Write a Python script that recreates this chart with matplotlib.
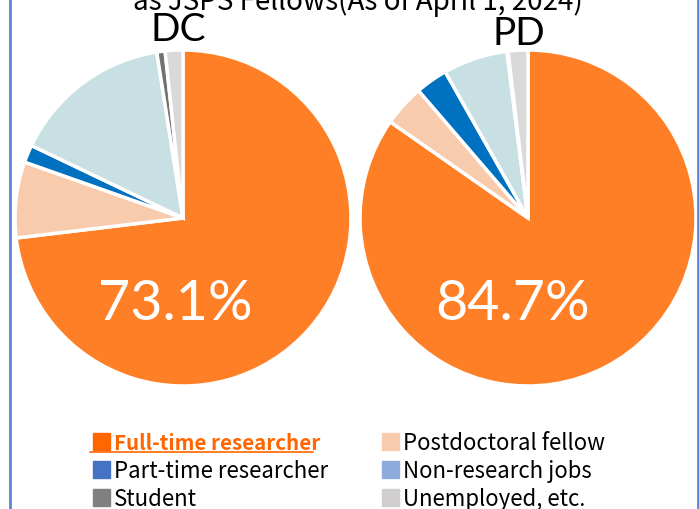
import matplotlib
matplotlib.use('Agg')
import matplotlib.pyplot as plt
from matplotlib.patches import Rectangle
from matplotlib.lines import Line2D

plt.rcParams['font.family'] = ['Noto Sans CJK JP', 'DejaVu Sans']

# data
categories = ['Full-time researcher', 'Postdoctoral fellow', 'Part-time researcher',
              'Non-research jobs', 'Student', 'Unemployed, etc.']
dc_values = [73.1, 7.3, 1.7, 15.4, 0.8, 1.7]
pd_values = [84.7, 4.0, 3.1, 6.2, 0.1, 1.9]
pie_titles = ['DC', 'PD']
title_text = 'as JSPS Fellows(As of April 1, 2024)'

pie_colors = ['#FF7F27', '#F8CBAD', '#0070C0', '#C8E0E4', '#767171', '#D9D9D9']
legend_colors = ['#FF6600', '#F8CBAD', '#4472C4', '#8FAADC', '#808080', '#D0CECE']

W, H = 699, 509
fig = plt.figure(figsize=(W / 100, H / 100), dpi=100)


def fx(x):
    return x / W


def fy(y):
    return 1 - y / H


# pies
r = 168
centers = [(183, 218), (528, 218)]
label_pos = [(175, 320), (513, 320)]
title_pos = [(178, 41), (519, 45)]
for i, values in enumerate([dc_values, pd_values]):
    cx, cy = centers[i]
    ax = fig.add_axes([fx(cx - r), fy(cy + r), 2 * r / W, 2 * r / H])
    ax.pie(values, colors=pie_colors, startangle=90, counterclock=False,
           radius=1, wedgeprops=dict(edgecolor='white', linewidth=2.5))
    ax.set_xlim(-1, 1)
    ax.set_ylim(-1, 1)
    ax.axis('off')
    lx, ly = label_pos[i]
    fig.text(fx(lx), fy(ly), f'{values[0]:.1f}%', color='white', fontsize=40,
             family=['Lato', 'DejaVu Sans'], ha='center', va='baseline')
    tx, ty = title_pos[i]
    fig.text(fx(tx), fy(ty), pie_titles[i], color='black', fontsize=28,
             family=['Lato', 'DejaVu Sans'], ha='center', va='baseline')

# title, cut at top edge
fig.text(fx(358), fy(10), title_text, fontsize=20, ha='center', va='baseline')

# legend
col_x = [93, 382]
row_y = [450, 478, 506]
for k, cat in enumerate(categories):
    row, col = k // 2, k % 2
    x0 = col_x[col]
    yb = row_y[row]
    fig.patches.append(Rectangle((fx(x0), fy(yb)), 17 / W, 17 / H,
                                 transform=fig.transFigure, color=legend_colors[k]))
    if k == 0:
        fig.text(fx(x0 + 21), fy(yb), cat, fontsize=14.8, color='#FF6600',
                 fontweight='bold', ha='left', va='baseline')
        fig.lines.append(Line2D([fx(x0 - 3), fx(313)], [fy(yb + 2), fy(yb + 2)],
                                transform=fig.transFigure, color='#FF6600', lw=1.2))
    else:
        fig.text(fx(x0 + 21), fy(yb), cat, fontsize=16, color='black',
                 ha='left', va='baseline')

# blue frame edges
for x in [10, 698]:
    fig.lines.append(Line2D([fx(x), fx(x)], [0, 1], transform=fig.transFigure,
                            color='#5B87D6', lw=2))

plt.savefig('out.png', dpi=100)
